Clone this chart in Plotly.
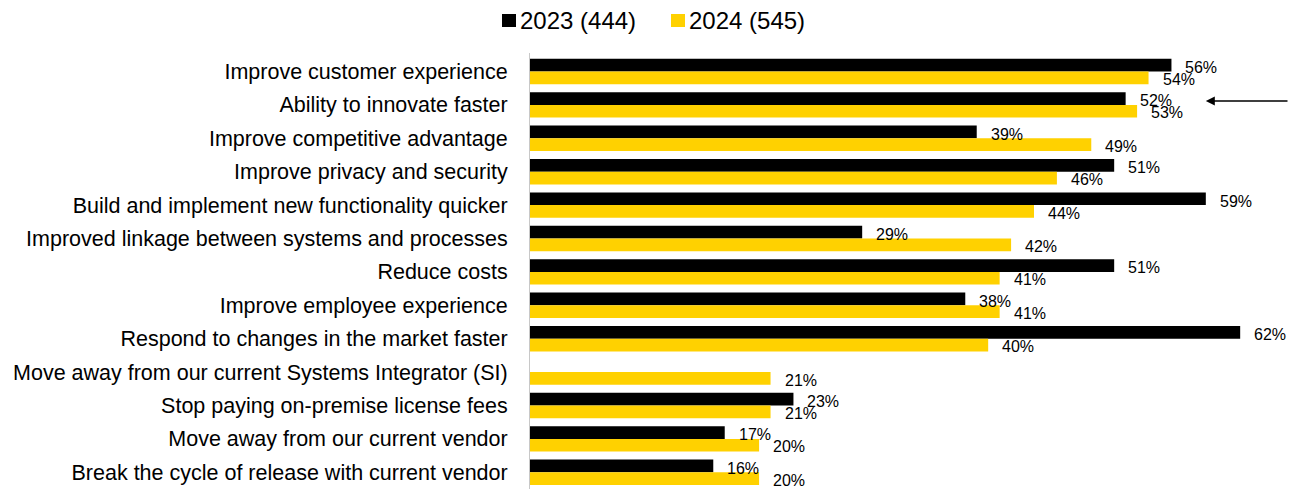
import plotly.graph_objects as go

categories = [
    "Improve customer experience",
    "Ability to innovate faster",
    "Improve competitive advantage",
    "Improve privacy and security",
    "Build and implement new functionality quicker",
    "Improved linkage between systems and processes",
    "Reduce costs",
    "Improve employee experience",
    "Respond to changes in the market faster",
    "Move away from our current Systems Integrator (SI)",
    "Stop paying on-premise license fees",
    "Move away from our current vendor",
    "Break the cycle of release with current vendor",
]
values_2023 = [56, 52, 39, 51, 59, 29, 51, 38, 62, None, 23, 17, 16]
values_2024 = [54, 53, 49, 46, 44, 42, 41, 41, 40, 21, 21, 20, 20]
series_names = ["2023 (444)", "2024 (545)"]

BLACK = "#000000"
YELLOW = "#FFD100"
FONT = "Liberation Sans, Arial, sans-serif"

W, H = 1289, 489
M_L, M_R, M_T, M_B = 530, 3, 53, 0
PLOT_W = W - M_L - M_R
PLOT_H = H - M_T - M_B


def px_to_paper(px, py):
    """Convert page pixels to paper coordinates of the plot area."""
    return (px - M_L) / PLOT_W, (H - M_B - py) / PLOT_H


fig = go.Figure()
fig.add_trace(go.Bar(y=categories, x=values_2023, orientation="h",
                     name=series_names[0], marker_color=BLACK,
                     marker_line_width=0, showlegend=False))
fig.add_trace(go.Bar(y=categories, x=values_2024, orientation="h",
                     name=series_names[1], marker_color=YELLOW,
                     marker_line_width=0, showlegend=False))

# value labels at the end of each bar (black bar sits above the row centre,
# yellow bar below it)
annotations = []
for vals, yshift in ((values_2023, 4), (values_2024, -8)):
    for cat, v in zip(categories, vals):
        if v is None:
            continue
        annotations.append(dict(
            x=v, y=cat, xref="x", yref="y", text=f"{v}%",
            showarrow=False, xanchor="left", yanchor="middle",
            xshift=12, yshift=yshift,
            font=dict(family=FONT, size=16, color="#000000"),
        ))

# pointer arrow highlighting the second row
annotations.append(dict(
    x=59, y=categories[1], xref="x", yref="y", text="",
    showarrow=True, arrowhead=2, arrowsize=1.2, arrowwidth=1.5,
    arrowcolor="#000000", ax=88, ay=0, yshift=4,
))

# legend drawn as coloured squares followed by series names
shapes = []
legend_items = [(502, BLACK, series_names[0]), (671, YELLOW, series_names[1])]
for left, color, label in legend_items:
    x0, y0 = px_to_paper(left, 27)
    x1, y1 = px_to_paper(left + 14, 14)
    shapes.append(dict(type="rect", xref="paper", yref="paper",
                       x0=x0, x1=x1, y0=y0, y1=y1,
                       fillcolor=color, line_width=0))
    tx, ty = px_to_paper(left + 16, 20)
    annotations.append(dict(
        x=tx, y=ty, xref="paper", yref="paper", text=label,
        showarrow=False, xanchor="left", yanchor="middle",
        font=dict(family=FONT, size=24, color="#000000"),
    ))

fig.update_layout(
    width=W, height=H,
    margin=dict(l=M_L, r=M_R, t=M_T, b=M_B),
    paper_bgcolor="white", plot_bgcolor="white",
    barmode="group", bargap=0.24, bargroupgap=0,
    font=dict(family=FONT, color="#000000"),
    showlegend=False,
    annotations=annotations,
    shapes=shapes,
    xaxis=dict(range=[0, 66], visible=False),
    yaxis=dict(autorange="reversed", showline=True, linecolor="#c8c8c8",
               linewidth=1, ticks="", showgrid=False,
               tickfont=dict(family=FONT, size=21.5, color="#000000"),
               ticklabelstandoff=17),
)

fig.write_html("out.html")
